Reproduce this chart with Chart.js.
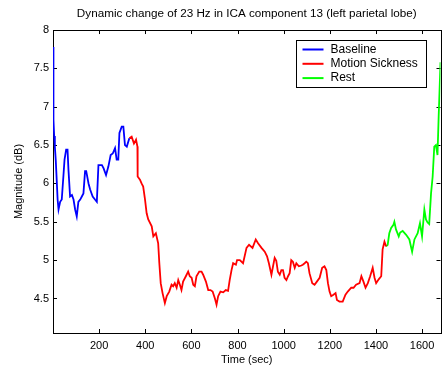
<!DOCTYPE html>
<html>
<head>
<meta charset="utf-8">
<script src="https://cdn.jsdelivr.net/npm/chart.js@4.4.0/dist/chart.umd.min.js"></script>
<style>
  html, body { margin: 0; padding: 0; background: #fff; }
  canvas { display: block; }
</style>
</head>
<body>
<canvas id="magChart" width="442" height="367"></canvas>
<script>
// time (sec) / magnitude (dB)
let baselineTime = [0, 2, 5, 8, 12, 16, 20, 24, 31, 38, 45, 50, 57, 63, 67, 74, 82, 89, 96, 103, 110, 118, 125, 132,
  139, 144, 154, 161, 172, 182, 190, 197, 212, 219, 230, 240, 250, 259, 269, 276, 283, 288, 298, 305, 312, 320, 327, 331];
let baselineMag = [7.78, 6.83, 6.62, 6.48, 6.30, 6.05, 5.79, 5.66, 5.76, 5.79, 6.09, 6.31, 6.44, 6.44, 6.18, 5.83, 5.85, 5.79, 5.66, 5.57, 5.76, 5.79, 5.83, 5.87,
  6.16, 6.16, 6.00, 5.92, 5.83, 5.79, 5.76, 6.24, 6.24, 6.20, 6.11, 6.22, 6.37, 6.39, 6.46, 6.31, 6.31, 6.66, 6.74, 6.74, 6.50, 6.48, 6.55, 6.59];

let sicknessTime = [331, 341, 351, 360, 366, 367, 377, 384, 391, 399, 406, 413, 428, 435, 446, 456, 461, 467, 475, 485,
  493, 504, 514, 521, 528, 536, 543, 550, 557, 564, 576, 586, 593, 601, 608, 615, 622, 634, 644, 651,
  663, 673, 683, 692, 702, 709, 716, 726, 738, 749, 759, 766, 774, 781, 793, 798, 810, 824, 839, 850,
  865, 879, 889, 904, 918, 928, 936, 947, 954, 961, 968, 975, 983, 990, 997, 1004, 1012, 1019, 1026, 1033,
  1040, 1048, 1055, 1066, 1077, 1083, 1091, 1098, 1105, 1112, 1124, 1134, 1144, 1156, 1167, 1177, 1185, 1192, 1199, 1206,
  1216, 1225, 1231, 1242, 1256, 1268, 1278, 1293, 1303, 1314, 1329, 1337, 1346, 1355, 1365, 1375, 1386, 1394, 1401, 1412,
  1423, 1429, 1437, 1444];
let sicknessMag = [6.59, 6.61, 6.52, 6.57, 6.48, 6.09, 6.05, 6.00, 5.96, 5.79, 5.61, 5.53, 5.44, 5.31, 5.35, 5.22, 4.96, 4.70, 4.57, 4.44,
  4.53, 4.59, 4.68, 4.66, 4.70, 4.64, 4.74, 4.68, 4.61, 4.72, 4.79, 4.85, 4.79, 4.77, 4.68, 4.66, 4.79, 4.85, 4.85, 4.81,
  4.72, 4.61, 4.61, 4.59, 4.50, 4.42, 4.53, 4.59, 4.58, 4.61, 4.60, 4.74, 4.87, 4.96, 4.94, 5.00, 5.00, 4.96, 5.16, 5.20,
  5.16, 5.27, 5.22, 5.16, 5.11, 5.05, 4.96, 4.81, 4.92, 5.03, 4.99, 4.85, 4.81, 4.87, 4.87, 4.77, 4.74, 4.79, 4.83, 5.00,
  4.98, 4.90, 4.96, 4.92, 4.93, 4.94, 4.96, 4.98, 4.96, 4.83, 4.70, 4.68, 4.72, 4.77, 4.90, 4.92, 4.87, 4.70, 4.59, 4.53,
  4.55, 4.57, 4.48, 4.46, 4.46, 4.55, 4.59, 4.64, 4.64, 4.68, 4.70, 4.79, 4.72, 4.64, 4.70, 4.79, 4.90, 4.77, 4.70, 4.75,
  4.79, 5.14, 5.24, 5.18];

let restTime = [1444, 1451, 1458, 1466, 1476, 1480, 1487, 1499, 1505, 1516, 1531, 1545, 1557, 1567, 1581, 1591, 1600, 1610, 1617, 1624,
  1631, 1639, 1646, 1653, 1660, 1667, 1672, 1676, 1680];
let restMag = [5.18, 5.20, 5.35, 5.42, 5.46, 5.50, 5.40, 5.31, 5.36, 5.38, 5.33, 5.27, 5.11, 5.27, 5.35, 5.48, 5.31, 5.66, 5.53, 5.49,
  5.47, 5.87, 6.09, 6.48, 6.50, 6.37, 6.87, 7.22, 7.58];

let xTicks = [200, 400, 600, 800, 1000, 1200, 1400, 1600];
let yTicks = [4.5, 5, 5.5, 6, 6.5, 7, 7.5, 8];
let seriesNames = ['Baseline', 'Motion Sickness', 'Rest'];
let seriesColors = ['#0000ff', '#ff0000', '#00ff00'];

function toPoints(t, v) {
  return t.map((x, i) => ({ x: x, y: v[i] }));
}

Chart.defaults.font.family = "'Liberation Sans', Arial, sans-serif";
Chart.defaults.font.size = 11;
Chart.defaults.color = '#000';

// matlab style box with inward ticks, plus the boxed legend in the upper right
let matlabAxes = {
  id: 'matlabAxes',
  beforeDatasetsDraw(c) {
    let a = c.chartArea, ctx = c.ctx, xs = c.scales.x, ys = c.scales.y;
    ctx.save();
    ctx.strokeStyle = '#000';
    ctx.lineWidth = 1;
    ctx.beginPath();
    xTicks.forEach(v => {
      let p = Math.round(xs.getPixelForValue(v)) + 0.5;
      ctx.moveTo(p, a.bottom); ctx.lineTo(p, a.bottom - 4);
      ctx.moveTo(p, a.top); ctx.lineTo(p, a.top + 4);
    });
    yTicks.forEach(v => {
      let p = Math.round(ys.getPixelForValue(v)) + 0.5;
      ctx.moveTo(a.left, p); ctx.lineTo(a.left + 4, p);
      ctx.moveTo(a.right, p); ctx.lineTo(a.right - 4, p);
    });
    ctx.stroke();
    ctx.strokeRect(Math.round(a.left) + 0.5, Math.round(a.top) + 0.5,
      Math.round(a.right - a.left), Math.round(a.bottom - a.top));
    ctx.restore();
  },
  afterDatasetsDraw(c) {
    let a = c.chartArea, ctx = c.ctx;
    let bx = Math.round(a.right - 145) + 0.5, by = Math.round(a.top + 10) + 0.5;
    ctx.save();
    ctx.fillStyle = '#fff';
    ctx.fillRect(bx, by, 130, 47);
    ctx.strokeStyle = '#000';
    ctx.lineWidth = 1;
    ctx.strokeRect(bx, by, 130, 47);
    ctx.font = "12px 'Liberation Sans', Arial, sans-serif";
    ctx.textBaseline = 'middle';
    ctx.fillStyle = '#000';
    seriesNames.forEach((n, i) => {
      let y = by + 9 + i * 14.3;
      ctx.strokeStyle = seriesColors[i];
      ctx.lineWidth = 2;
      ctx.beginPath();
      ctx.moveTo(bx + 6, y); ctx.lineTo(bx + 27, y);
      ctx.stroke();
      ctx.fillText(n, bx + 34, y);
    });
    ctx.restore();
  }
};

let chart = document.getElementById('magChart');
let magChart = new Chart(chart, {
  type: 'line',
  data: {
    datasets: [
      { label: seriesNames[0], data: toPoints(baselineTime, baselineMag), borderColor: seriesColors[0] },
      { label: seriesNames[1], data: toPoints(sicknessTime, sicknessMag), borderColor: seriesColors[1] },
      { label: seriesNames[2], data: toPoints(restTime, restMag), borderColor: seriesColors[2] }
    ]
  },
  options: {
    responsive: false,
    animation: false,
    layout: { padding: { left: 0, right: 1.5, top: 0, bottom: 0 } },
    elements: {
      line: { borderWidth: 1.8, tension: 0, fill: false },
      point: { radius: 0 }
    },
    plugins: {
      legend: { display: false },
      tooltip: { enabled: false },
      title: {
        display: true,
        fullSize: false,
        text: 'Dynamic change of 23 Hz in ICA component 13 (left parietal lobe)',
        font: { size: 11.7, weight: 'normal' },
        color: '#000',
        padding: { top: 6.5, bottom: 9.5 }
      }
    },
    scales: {
      x: {
        type: 'linear',
        min: 0,
        max: 1680,
        grid: { display: false, drawTicks: false },
        border: { display: false },
        afterBuildTicks: s => { s.ticks = xTicks.map(v => ({ value: v })); },
        afterFit: s => { s.height = 34; },
        ticks: { padding: 6, maxRotation: 0, autoSkip: false, callback: v => String(v) },
        title: { display: true, text: 'Time (sec)', padding: { top: 0, bottom: 0.5 } }
      },
      y: {
        type: 'linear',
        min: 4.05,
        max: 8,
        grid: { display: false, drawTicks: false },
        border: { display: false },
        afterBuildTicks: s => { s.ticks = yTicks.map(v => ({ value: v })); },
        afterFit: s => { s.width = 53; },
        ticks: { padding: 4, autoSkip: false, callback: v => String(v) },
        title: { display: true, text: 'Magnitude (dB)', padding: { top: 12.5, bottom: 0 } }
      }
    }
  },
  plugins: [matlabAxes]
});
</script>
</body>
</html>
